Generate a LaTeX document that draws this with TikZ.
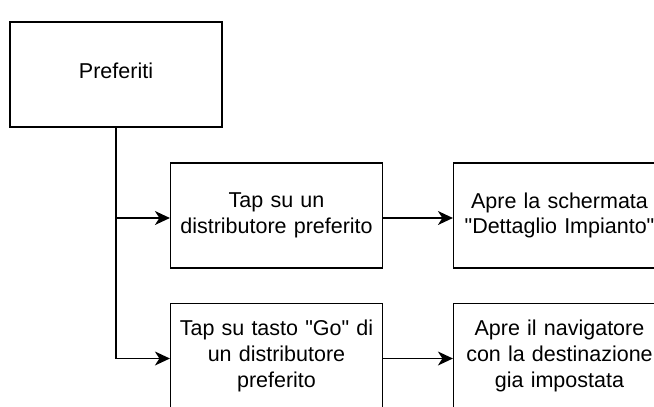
\documentclass[tikz,border=0pt]{standalone}
\usepackage{fontspec}
\setmainfont{Liberation Sans}[Ligatures=TeXOff]
\usetikzlibrary{arrows.meta}
\begin{document}
\begin{tikzpicture}[x=1pt,y=1pt,
  box/.style={draw=black, line width=1.2pt, rectangle, minimum width=212pt, minimum height=105pt,
    inner sep=0pt, text width=208pt, align=center, font=\fontsize{21.5}{25.7}\selectfont},
  arr/.style={draw=black, line width=1.2pt, -{Stealth[length=15pt,width=14pt,inset=4.5pt]}}]
\useasboundingbox (0,0) rectangle (654,-407);
\node[box, text depth=7pt] (pref) at (116,-74.5) {Preferiti};
\node[box] (tap1) at (276.5,-215.5) {Tap su un\\distributore preferito};
\node[box] (tap2) at (276.5,-356) {Tap su tasto "Go" di\\un distributore\\preferito};
\node[box] (apre1) at (559.5,-215.5) {Apre la schermata\\"Dettaglio Impianto"};
\node[box] (apre2) at (559.5,-356) {Apre il navigatore\\con la destinazione\\gia impostata};
\draw[arr] (pref.south) |- ([yshift=-2.5pt]tap1.west);
\draw[arr] (pref.south) |- ([yshift=-2.5pt]tap2.west);
\draw[arr] ([yshift=-2.5pt]tap1.east) -- ([yshift=-2.5pt]apre1.west);
\draw[arr] ([yshift=-2.5pt]tap2.east) -- ([yshift=-2.5pt]apre2.west);
\end{tikzpicture}
\end{document}
